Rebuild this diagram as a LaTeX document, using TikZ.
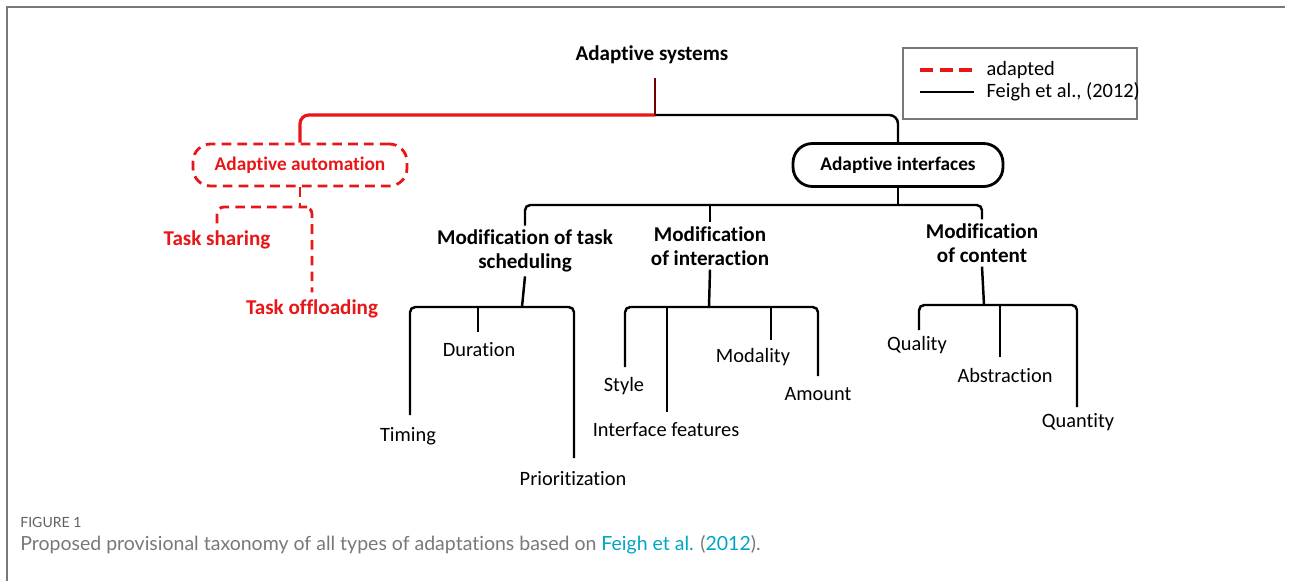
\documentclass[tikz,border=0pt]{standalone}
\usepackage{fontspec}
\setmainfont[Ligatures=NoCommon]{Carlito}
\newfontfamily\capfont[Ligatures=NoCommon]{Lato}
\definecolor{adred}{RGB}{232,22,22}
\definecolor{framegray}{RGB}{120,120,120}
\definecolor{capgray}{RGB}{120,120,120}
\definecolor{citeblue}{RGB}{0,165,195}

\tikzset{
  tree/.style={line width=1.4pt, black, rounded corners=3pt},
  redash/.style={line width=1.6pt, adred, dash pattern=on 5.5pt off 3.5pt, rounded corners=4pt},
  redline/.style={line width=1.8pt, adred, rounded corners=5pt},
  head/.style={font=\fontsize{12}{14}\selectfont\bfseries, align=center, inner sep=2pt},
  leaf/.style={font=\fontsize{11.6}{14}\selectfont, inner sep=3pt},
  redleaf/.style={font=\fontsize{12}{14}\selectfont\bfseries, text=adred, inner sep=4pt},
  pillbox/.style={draw, line width=1.6pt, rounded corners=11pt, minimum width=4.2cm, minimum height=0.86cm,
    font=\fontsize{11}{13}\selectfont\bfseries},
  dashbox/.style={draw, redash, rounded corners=10pt, minimum width=4.28cm, minimum height=0.84cm,
    font=\fontsize{11}{13}\selectfont\bfseries, text=adred}
}

\begin{document}
\begin{tikzpicture}[x=0.02cm, y=-0.02cm]
    \useasboundingbox (0,0) rectangle (1290,581);
    \draw[framegray, line width=1pt] (7,581) -- (7,7) -- (1285,7);

    % root and the two main branches
    \node[head] (sys) at (652,55) {Adaptive systems};
    \node[dashbox] (auto) at (300,165) {Adaptive automation};
    \node[pillbox] (iface) at (898,165) {Adaptive interfaces};
    \coordinate (sysbar) at (655,115);
    \draw[redline] (auto.north) |- (sysbar);
    \draw[tree, rounded corners=5pt] (sysbar) -| (iface.north);
    \draw[line width=1.4pt, red!45!black, shorten <=6pt] (sys.south -| sysbar) -- (sysbar);

    % adapted part
    \node[redleaf] (sharing) at (217,240) {Task sharing};
    \node[redleaf] (offload) at (312,309) {Task offloading};
    \coordinate (autobar) at (300,207);
    \draw[redash] (auto.south) -- (autobar);
    \draw[redash] (sharing.north) |- (autobar) -| (offload.north);

    % second level
    \node[head] (sched) at (525,251) {Modification of task\\scheduling};
    \node[head] (inter) at (710,246) {Modification\\of interaction};
    \node[head] (content) at (982,243) {Modification\\of content};
    \coordinate (ifbar) at (898,205);
    \draw[tree] (iface.south) -- (ifbar);
    \draw[tree] (sched.north) |- (ifbar) -| (content.north);
    \draw[tree] (ifbar -| inter.north) -- (inter.north);

    % task scheduling
    \node[leaf] (timing) at (408,436) {Timing};
    \node[leaf] (duration) at (479,350) {Duration};
    \node[leaf] (prio) at (573,479) {Prioritization};
    \coordinate (schedbar) at (522,307);
    \coordinate (timingend) at (410,415);
    \coordinate (durend) at (478,332);
    \coordinate (prioend) at (574,458);
    \draw[tree] (sched.south) -- (schedbar);
    \draw[tree] (timingend) |- (schedbar) -| (prioend);
    \draw[tree] (schedbar -| durend) -- (durend);

    % interaction
    \node[leaf] (style) at (624,386) {Style};
    \node[leaf] (features) at (666,430) {Interface features};
    \node[leaf] (modality) at (753,357) {Modality};
    \node[leaf] (amount) at (818,394) {Amount};
    \coordinate (interbar) at (709,307);
    \coordinate (styleend) at (625,367);
    \coordinate (featend) at (667,412);
    \coordinate (modend) at (771,340);
    \coordinate (amountend) at (818,376);
    \draw[tree] (inter.south) -- (interbar);
    \draw[tree] (styleend) |- (interbar) -| (amountend);
    \draw[tree] (interbar -| featend) -- (featend);
    \draw[tree] (interbar -| modend) -- (modend);

    % content
    \node[leaf] (quality) at (917,345) {Quality};
    \node[leaf] (abstraction) at (1005,375) {Abstraction};
    \node[leaf] (quantity) at (1078,422) {Quantity};
    \coordinate (contbar) at (984,305);
    \coordinate (qualend) at (919,330);
    \coordinate (absend) at (1000,357);
    \coordinate (quantend) at (1077,407);
    \draw[tree] (content.south) -- (contbar);
    \draw[tree] (qualend) |- (contbar) -| (quantend);
    \draw[tree] (contbar -| absend) -- (absend);

    % legend
    \node[draw=framegray, line width=0.7pt, minimum width=4.68cm, minimum height=1.42cm] (legend) at (1020,83.5) {};
    \node[leaf, anchor=west] (adapted) at (981,70) {adapted};
    \node[leaf, anchor=west] (feigh) at (981,92) {Feigh et al., (2012)};
    \coordinate (lg1) at (920,70);
    \coordinate (lg2) at (920,92);
    \draw[redash, line width=1.8pt, dash pattern=on 7.5pt off 3.6pt, shorten >=4pt] (lg1) -- (adapted.west);
    \draw[line width=1.6pt, shorten >=4pt] (lg2) -- (feigh.west);

    % caption
    \node[anchor=west, inner sep=0pt, text=capgray!80!black, font=\capfont\fontsize{8}{9}\selectfont] (figno) at (20,522) {FIGURE 1};
    \node[anchor=west, inner sep=0pt, text=capgray, font=\capfont\fontsize{11.1}{13}\selectfont] (caption) at (20,545)
      {Proposed provisional taxonomy of all types of adaptations based on \textcolor{citeblue}{Feigh et al.} (\textcolor{citeblue}{2012}).};
\end{tikzpicture}
\end{document}
